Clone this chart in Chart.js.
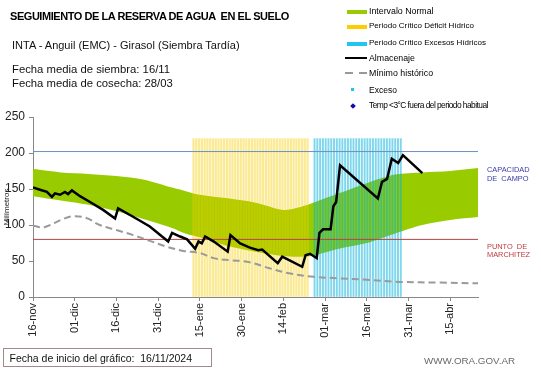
<!DOCTYPE html>
<html>
<head>
<meta charset="utf-8">
<script src="https://cdn.jsdelivr.net/npm/chart.js@4/dist/chart.umd.min.js"></script>
<style>
  html, body { margin: 0; padding: 0; background: #fff; }
  body { width: 541px; height: 368px; position: relative; overflow: hidden; font-family: "Liberation Sans", Arial, sans-serif; }
  #chart { position: absolute; left: 0; top: 0; }
  .t { position: absolute; white-space: pre; line-height: 1; color: #000; }
  .sym { position: absolute; }
</style>
</head>
<body>
<canvas id="chart" width="541" height="368"></canvas>

<div class="t" style="left:10px; top:10.7px; font-size:11px; font-weight:bold; letter-spacing:-0.45px;">SEGUIMIENTO DE LA RESERVA DE AGUA  EN EL SUELO</div>
<div class="t" style="left:12px; top:40px; font-size:11px; color:#111;">INTA - Anguil (EMC) - Girasol (Siembra Tardía)</div>
<div class="t" style="left:12px; top:64.4px; font-size:11.3px; color:#111;">Fecha media de siembra: 16/11</div>
<div class="t" style="left:12px; top:77.7px; font-size:11.3px; color:#111;">Fecha media de cosecha: 28/03</div>

<!-- leyenda -->
<div class="sym" style="left:347px; top:10px; width:20px; height:4px; background:#99cc00;"></div>
<div class="t" style="left:369px; top:6.5px; font-size:8.8px;">Intervalo Normal</div>
<div class="sym" style="left:347px; top:25px; width:20px; height:4px; background:#ffcc00;"></div>
<div class="t" style="left:369px; top:22.2px; font-size:8px;">Periodo Crítico Déficit Hídrico</div>
<div class="sym" style="left:347px; top:41.5px; width:20px; height:4px; background:#22c4f0;"></div>
<div class="t" style="left:369px; top:38.9px; font-size:8px;">Periodo Crítico Excesos Hídricos</div>
<div class="sym" style="left:345px; top:57px; width:22px; height:2px; background:#000;"></div>
<div class="t" style="left:369px; top:54.2px; font-size:8.8px;">Almacenaje</div>
<div class="sym" style="left:345px; top:72px; width:8px; height:2px; background:#999;"></div>
<div class="sym" style="left:359px; top:72px; width:8px; height:2px; background:#999;"></div>
<div class="t" style="left:369px; top:68.5px; font-size:8.8px;">Mínimo histórico</div>
<div class="sym" style="left:351px; top:88px; width:3px; height:3px; background:#22c4f0;"></div>
<div class="t" style="left:369px; top:85.5px; font-size:8.5px;">Exceso</div>
<div class="sym" style="left:350.5px; top:103.5px; width:4px; height:4px; background:#1010a0; transform:rotate(45deg);"></div>
<div class="t" style="left:369px; top:101.2px; font-size:8.4px; letter-spacing:-0.55px;">Temp &lt;3°C fuera del periodo habitual</div>

<!-- etiquetas derechas -->
<div class="t" style="left:487px; top:166.4px; font-size:7.4px; color:#3a3aa8;">CAPACIDAD</div>
<div class="t" style="left:487px; top:175px; font-size:7.4px; color:#3a3aa8;">DE  CAMPO</div>
<div class="t" style="left:487px; top:243px; font-size:7.4px; color:#c03a3a;">PUNTO  DE</div>
<div class="t" style="left:487px; top:251.4px; font-size:7.4px; color:#c03a3a;">MARCHITEZ</div>

<!-- pie -->
<div class="sym" style="left:3px; top:348px; width:207px; height:17px; border:1px solid #a08a8a;"></div>
<div class="t" style="left:9.5px; top:352.8px; font-size:10.5px; color:#111;">Fecha de inicio del gráfico:  16/11/2024</div>
<div class="t" style="left:424px; top:355.7px; font-size:9.8px; color:#6a6a6a;">WWW.ORA.GOV.AR</div>

<script>
// eje x: dias desde 16-nov
const tickLabels = ["16-nov", "01-dic", "16-dic", "31-dic", "15-ene", "30-ene", "14-feb", "01-mar", "16-mar", "31-mar", "15-abr"]
const tickStepDays = 15
const lastDay = 160

// intervalo normal
const bandDays = [0, 10, 20, 30, 40, 50, 55, 60, 70, 80, 90, 95, 100, 110, 120, 130, 140, 150, 160]
const bandUpper = [178, 173, 171, 168, 163, 152, 147, 142, 137, 131, 121, 124, 130, 144, 158, 170, 173, 175, 179]
const bandLower = [140, 134, 128, 119, 108, 96, 88, 83, 71, 63, 57, 56, 57, 67, 75, 88, 100, 107, 111]

// minimo historico
const minDays = [0, 4, 10, 14, 19, 24, 30, 36, 42, 48, 54, 60, 65, 71, 77, 85, 92, 101, 110, 120, 132, 146, 160]
const minValues = [99, 97, 107, 112, 110, 100, 93, 86, 78, 70, 64, 61, 54, 51, 49, 40, 33, 28, 26, 24, 21, 20, 19]

// almacenaje
const storeDays = [0, 2.5, 5, 6.8, 7.9, 9.7, 11.5, 12.6, 14, 16.9, 20.5, 25.2, 29.5, 30.6, 36, 42, 48.6, 50, 52.9, 55.4,
  58.3, 59.5, 60.7, 61.9, 65, 70, 71, 74.5, 78, 81, 82.4, 88, 89.6, 96.8, 98, 99.6, 102, 103, 104.3, 107,
  108, 109, 110.4, 124, 125.5, 127.3, 129, 131.3, 133, 140]
const storeValues = [152, 149, 146, 139, 144, 142, 146, 143, 148, 140, 132, 121, 109, 123, 111.5, 98, 77, 89, 84, 80,
  67, 77, 74.5, 84, 77, 63, 86, 74.5, 68.5, 65, 66, 47, 56, 42, 58, 60, 54, 89, 94, 94,
  126, 132, 183, 137, 160, 164, 192, 186, 197, 172]

// periodos criticos (primer y ultimo dia)
const deficitPeriod = [58, 99]
const excessPeriod = [101, 132]
const periodTop = 220

const fieldCapacity = 202
const wiltingPoint = 80

const points = (xs, ys) => xs.map((x, i) => ({ x, y: ys[i] }))
const dailyStripes = ([first, last]) => {
  const out = []
  for (let d = first; d <= last; d++) out.push({ x: d, y: periodTop })
  return out
}
const flat = v => [{ x: 0, y: v }, { x: lastDay, y: v }]

Chart.defaults.font.family = "'Liberation Sans', Arial, sans-serif"

new Chart(document.getElementById("chart"), {
  type: "line",
  data: {
    datasets: [
      {
        label: "Intervalo Normal sup",
        data: points(bandDays, bandUpper),
        borderWidth: 0,
        pointRadius: 0,
        backgroundColor: "#99cc00",
        fill: "+1",
        tension: 0.3,
        order: 5
      },
      {
        label: "Intervalo Normal inf",
        data: points(bandDays, bandLower),
        borderWidth: 0,
        pointRadius: 0,
        fill: false,
        tension: 0.3,
        order: 5
      },
      {
        type: "bar",
        label: "Periodo Crítico Déficit Hídrico",
        data: dailyStripes(deficitPeriod),
        backgroundColor: "rgba(245, 205, 0, 0.42)",
        barThickness: 1.6,
        order: 4
      },
      {
        type: "bar",
        label: "Periodo Crítico Excesos Hídricos",
        data: dailyStripes(excessPeriod),
        backgroundColor: "rgba(0, 175, 220, 0.5)",
        barThickness: 1.3,
        order: 4
      },
      {
        label: "Capacidad de campo",
        data: flat(fieldCapacity),
        borderColor: "#6f8fc4",
        borderWidth: 1,
        pointRadius: 0,
        fill: false,
        order: 3
      },
      {
        label: "Punto de marchitez",
        data: flat(wiltingPoint),
        borderColor: "#b54545",
        borderWidth: 1,
        pointRadius: 0,
        fill: false,
        order: 3
      },
      {
        label: "Mínimo histórico",
        data: points(minDays, minValues),
        borderColor: "#9a9a9a",
        borderWidth: 2,
        borderDash: [7, 4],
        pointRadius: 0,
        fill: false,
        tension: 0.35,
        order: 2
      },
      {
        label: "Almacenaje",
        data: points(storeDays, storeValues),
        borderColor: "#000",
        borderWidth: 2.5,
        pointRadius: 0,
        fill: false,
        tension: 0,
        order: 1
      }
    ]
  },
  options: {
    responsive: false,
    animation: false,
    layout: {
      padding: { left: 0, top: 117, right: 63, bottom: 21 }
    },
    scales: {
      x: {
        type: "linear",
        min: 0,
        max: lastDay,
        offset: false,
        afterBuildTicks: scale => {
          scale.ticks = tickLabels.map((_, i) => ({ value: i * tickStepDays }))
        },
        afterFit: scale => { scale.height = 50 },
        ticks: {
          autoSkip: false,
          minRotation: 90,
          maxRotation: 90,
          padding: 2,
          color: "#222",
          font: { size: 11 },
          callback: v => tickLabels[Math.round(v / tickStepDays)]
        },
        grid: { offset: false, drawOnChartArea: false, tickLength: 4, color: "#888" },
        border: { color: "#888" }
      },
      y: {
        min: 0,
        max: 250,
        afterFit: scale => { scale.width = 33 },
        ticks: {
          stepSize: 50,
          padding: 4,
          color: "#222",
          font: { size: 12 }
        },
        title: {
          display: true,
          text: "Milímetros",
          color: "#222",
          font: { size: 8 },
          padding: { top: 2, bottom: 0 }
        },
        grid: { drawOnChartArea: false, tickLength: 4, color: "#888" },
        border: { color: "#888" }
      }
    },
    plugins: {
      legend: { display: false },
      tooltip: { enabled: false }
    }
  }
})
</script>
</body>
</html>
